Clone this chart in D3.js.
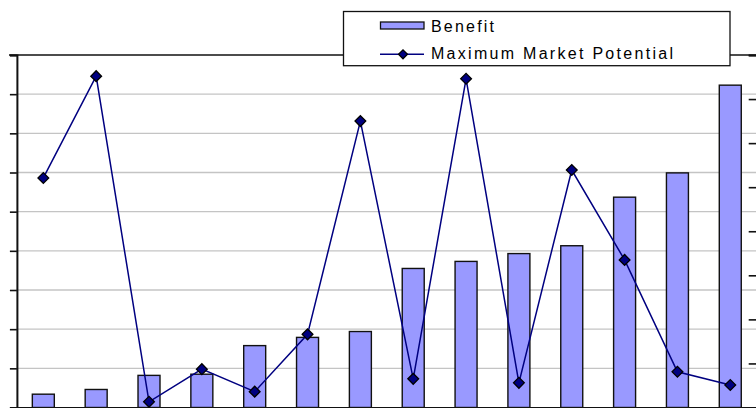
<!DOCTYPE html>
<html>
<head>
<meta charset="utf-8">
<script src="https://cdn.jsdelivr.net/npm/d3@7"></script>
<style>
  html, body { margin: 0; padding: 0; background: #fff; }
  svg { display: block; }
  .legend text { font-family: "Liberation Sans", Arial, sans-serif; font-size: 16px; fill: #000; }
</style>
</head>
<body>
<svg id="chart" width="756" height="408"></svg>
<script>
// Categories along the x axis (labels not shown on the axis)
const categories = ["1", "2", "3", "4", "5", "6", "7", "8", "9", "10", "11", "12", "13", "14"];
// Benefit, primary (left) axis
const benefit = [3.4, 4.6, 8.2, 8.5, 15.8, 17.9, 19.4, 35.5, 37.3, 39.3, 41.3, 53.7, 59.9, 82.3];
// Maximum Market Potential, secondary (right) axis
const marketPotential = [5.21, 7.52, 0.13, 0.87, 0.36, 1.66, 6.5, 0.65, 7.46, 0.56, 5.39, 3.35, 0.81, 0.51];
// Axis tick values
const leftTicks = [0, 10, 20, 30, 40, 50, 60, 70, 80, 90];
const rightTicks = [0, 1, 2, 3, 4, 5, 6, 7, 8];
const seriesNames = ["Benefit", "Maximum Market Potential"];

const svg = d3.select("#chart");
const plot = { left: 16.9, right: 756.7, top: 55, bottom: 407.5 };

const x = d3.scaleBand()
  .domain(categories)
  .range([plot.left, plot.right])
  .paddingInner(0.584)
  .paddingOuter(0.292);

const yL = d3.scaleLinear().domain([0, 90]).range([plot.bottom, plot.top]);
const yR = d3.scaleLinear().domain([0, 8]).range([plot.bottom, plot.top]);

// Horizontal gridlines
svg.append("g")
  .selectAll("line")
  .data(leftTicks.slice(1, -1))
  .join("line")
  .attr("x1", plot.left).attr("x2", plot.right)
  .attr("y1", d => yL(d)).attr("y2", d => yL(d))
  .attr("stroke", "#c4c4c4").attr("stroke-width", 1.3);

// Top border of the plot
svg.append("line")
  .attr("x1", 9).attr("x2", 760)
  .attr("y1", plot.top).attr("y2", plot.top)
  .attr("stroke", "#111").attr("stroke-width", 1.4);

// Bars
svg.append("g")
  .selectAll("rect")
  .data(benefit)
  .join("rect")
  .attr("x", (d, i) => x(categories[i]))
  .attr("width", x.bandwidth())
  .attr("y", d => yL(d))
  .attr("height", d => yL(0) - yL(d))
  .attr("fill", "#9999ff")
  .attr("stroke", "#111")
  .attr("stroke-width", 1.4);

// Left axis
const axL = svg.append("g")
  .attr("transform", `translate(${plot.left},0)`)
  .call(d3.axisLeft(yL).tickValues(leftTicks).tickSize(7).tickFormat(""));
axL.select(".domain").attr("stroke", "#111").attr("stroke-width", 2);
axL.selectAll(".tick line").attr("stroke", "#111").attr("stroke-width", 1.6);

// Right axis (ticks pointing into the plot)
const axR = svg.append("g")
  .attr("transform", `translate(${plot.right},0)`)
  .call(d3.axisLeft(yR).tickValues(rightTicks).tickSize(8).tickFormat(""));
axR.select(".domain").attr("stroke", "#111").attr("stroke-width", 2);
axR.selectAll(".tick line").attr("stroke", "#111").attr("stroke-width", 1.6);

// Bottom axis
const axB = svg.append("g")
  .attr("transform", `translate(0,${plot.bottom})`)
  .call(d3.axisBottom(x).tickSize(0).tickFormat(""));
axB.select(".domain").attr("stroke", "#111").attr("stroke-width", 2);

// Line series
const cx = (d, i) => x(categories[i]) + x.bandwidth() / 2;
const line = d3.line().x(cx).y(d => yR(d));
svg.append("path")
  .datum(marketPotential)
  .attr("d", line)
  .attr("fill", "none")
  .attr("stroke", "#000080")
  .attr("stroke-width", 1.5);

// Diamond markers
svg.append("g")
  .selectAll("path")
  .data(marketPotential)
  .join("path")
  .attr("transform", (d, i) => `translate(${cx(d, i)},${yR(d)}) rotate(45)`)
  .attr("d", d3.symbol().type(d3.symbolSquare).size(58))
  .attr("fill", "#000080")
  .attr("stroke", "#000")
  .attr("stroke-width", 1.3);

// Legend
const lg = svg.append("g").attr("class", "legend");
lg.append("rect")
  .attr("x", 343.5).attr("y", 11.5)
  .attr("width", 386.5).attr("height", 54.2)
  .attr("fill", "#fff").attr("stroke", "#111").attr("stroke-width", 1.3);
lg.append("rect")
  .attr("x", 380.5).attr("y", 22)
  .attr("width", 43.5).attr("height", 7)
  .attr("fill", "#9999ff").attr("stroke", "#111").attr("stroke-width", 1.3);
lg.append("line")
  .attr("x1", 380).attr("x2", 424)
  .attr("y1", 54.3).attr("y2", 54.3)
  .attr("stroke", "#000080").attr("stroke-width", 1.5);
lg.append("path")
  .attr("transform", "translate(403,54.3) rotate(45)")
  .attr("d", d3.symbol().type(d3.symbolSquare).size(40))
  .attr("fill", "#000080").attr("stroke", "#000").attr("stroke-width", 1.3);
lg.append("text")
  .attr("x", 431).attr("y", 31.5)
  .attr("textLength", 63).attr("lengthAdjust", "spacing")
  .text(seriesNames[0]);
lg.append("text")
  .attr("x", 431).attr("y", 59.3)
  .attr("textLength", 242).attr("lengthAdjust", "spacing")
  .text(seriesNames[1]);
</script>
</body>
</html>
